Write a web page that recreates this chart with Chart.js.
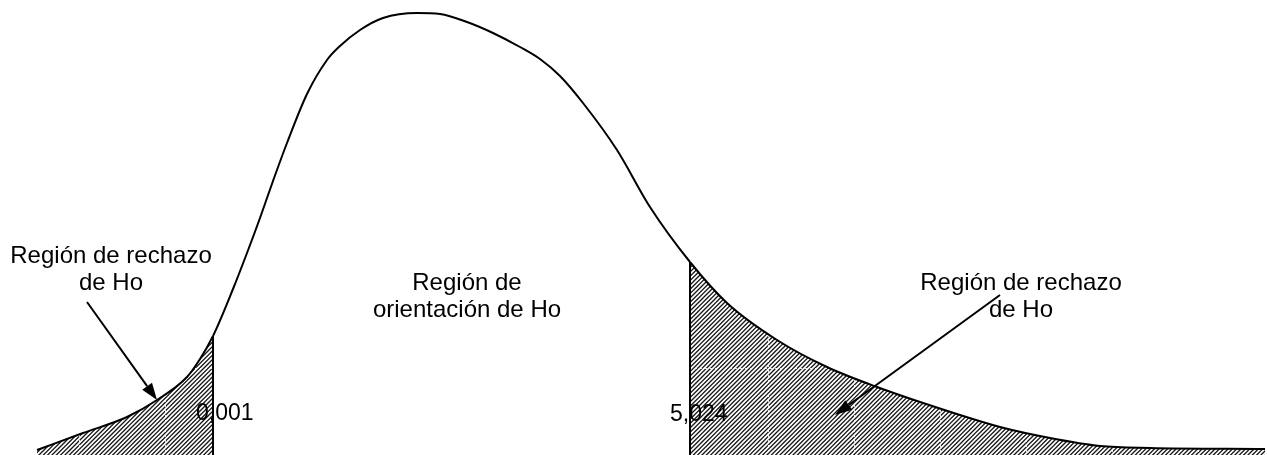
<!DOCTYPE html>
<html>
<head>
<meta charset="utf-8">
<script src="https://cdn.jsdelivr.net/npm/chart.js@4"></script>
<style>
body { margin: 0; background: #fff; }
#wrap { width: 1267px; height: 455px; position: relative; }
</style>
</head>
<body>
<div id="wrap"><canvas id="myChart"></canvas></div>
<script>
// curve (x position, height of the density)
const curveX = [37, 83, 127, 157, 187, 200, 213, 233, 247, 260, 273, 287, 307, 327, 340, 360, 383, 417, 440, 467, 493, 520, 540, 560, 583, 617, 650, 690, 727, 777, 827, 877, 960, 1000, 1050, 1100, 1150, 1265];
const curveY = [5, 22, 38, 55, 78, 96, 119, 166, 202, 237, 274, 312, 361, 395, 409, 425, 437, 442, 441, 433, 422, 408, 396, 379, 352, 305, 248, 193, 152, 115, 88, 68, 40, 28, 17, 9, 7, 6];

// critical values (position on the x axis and their labels)
const critX = [213, 690];
const critLabels = ['0,001', '5,024'];

// old worksheet gridlines that show through the hatch
const gridX = [79, 165, 251, 337, 424, 510, 596, 682, 768, 854, 940, 1026, 1112, 1198];
const gridY = [87];

const regionTexts = [
  ['Región de rechazo', 'de Ho'],
  ['Región de', 'orientación de Ho'],
  ['Región de rechazo', 'de Ho']
];

const FONT = '"Liberation Sans", Arial, sans-serif';

// diagonal hatch used for the rejection regions
function makeHatch() {
  const n = 13, p = 13 / 3;
  const c = document.createElement('canvas');
  c.width = n;
  c.height = n;
  const g = c.getContext('2d');
  g.fillStyle = '#fff';
  g.fillRect(0, 0, n, n);
  g.strokeStyle = '#161616';
  g.lineWidth = 1.35;
  g.beginPath();
  for (let k = 0; k <= 6; k++) {
    const cst = k * p;
    g.moveTo(cst + 2, -2);
    g.lineTo(cst - n - 2, n + 2);
  }
  g.stroke();
  return g.createPattern(c, 'repeat');
}
const hatch = makeHatch();

const curvePoints = curveX.map((x, i) => ({ x: x, y: curveY[i] }));

function heightAt(x) {
  const i = curveX.indexOf(x);
  return curveY[i];
}

const datasets = [{
  label: 'curva',
  data: curvePoints,
  borderColor: '#000',
  borderWidth: 2,
  pointRadius: 0,
  cubicInterpolationMode: 'monotone',
  fill: 'start',
  backgroundColor: 'transparent',
  segment: {
    backgroundColor: ctx => (ctx.p1.parsed.x <= critX[0] || ctx.p0.parsed.x >= critX[1]) ? hatch : 'rgba(0,0,0,0)'
  }
}];

critX.forEach(x => {
  datasets.push({
    label: 'corte',
    data: [{ x: x, y: 0 }, { x: x, y: heightAt(x) }],
    borderColor: '#000',
    borderWidth: 2,
    pointRadius: 0,
    fill: false
  });
});

// text and arrows, placed in chart units
const notes = [
  { lines: regionTexts[0], x: 111, y: 192, size: 24 },
  { lines: regionTexts[1], x: 467, y: 165, size: 24 },
  { lines: regionTexts[2], x: 1021, y: 165, size: 24 }
];
const arrows = [
  { from: [87, 153], to: [157, 55] },
  { from: [1000, 160], to: [835, 40] }
];

// white dashes over the fill, under the lines
const gridPlugin = {
  id: 'oldGrid',
  beforeDatasetsDraw(chart) {
    const ctx = chart.ctx;
    const a = chart.chartArea;
    const xs = chart.scales.x;
    const ys = chart.scales.y;
    ctx.save();
    ctx.strokeStyle = 'rgba(255,255,255,0.85)';
    ctx.lineWidth = 1;
    ctx.setLineDash([2, 3]);
    ctx.beginPath();
    gridX.forEach(v => {
      const px = Math.round(xs.getPixelForValue(v)) + 0.5;
      ctx.moveTo(px, a.top);
      ctx.lineTo(px, a.bottom);
    });
    gridY.forEach(v => {
      const py = Math.round(ys.getPixelForValue(v)) + 0.5;
      ctx.moveTo(a.left, py);
      ctx.lineTo(a.right, py);
    });
    ctx.stroke();
    ctx.restore();
  }
};

const labelsPlugin = {
  id: 'labels',
  afterDatasetsDraw(chart) {
    const ctx = chart.ctx;
    const xs = chart.scales.x;
    const ys = chart.scales.y;
    ctx.save();
    ctx.fillStyle = '#000';
    ctx.strokeStyle = '#000';
    ctx.textBaseline = 'alphabetic';

    notes.forEach(n => {
      ctx.font = n.size + 'px ' + FONT;
      ctx.textAlign = 'center';
      const px = xs.getPixelForValue(n.x);
      const py = ys.getPixelForValue(n.y);
      n.lines.forEach((t, k) => ctx.fillText(t, px, py + k * 27));
    });

    ctx.font = '23px ' + FONT;
    ctx.textAlign = 'left';
    ctx.fillText(critLabels[0], xs.getPixelForValue(critX[0]) - 17, ys.getPixelForValue(35));
    ctx.fillText(critLabels[1], xs.getPixelForValue(critX[1]) - 20, ys.getPixelForValue(34));

    arrows.forEach(a => {
      const x0 = xs.getPixelForValue(a.from[0]);
      const y0 = ys.getPixelForValue(a.from[1]);
      const x1 = xs.getPixelForValue(a.to[0]);
      const y1 = ys.getPixelForValue(a.to[1]);
      const ang = Math.atan2(y1 - y0, x1 - x0);
      const len = 17, half = 6;
      const bx = x1 - len * Math.cos(ang);
      const by = y1 - len * Math.sin(ang);
      ctx.lineWidth = 2;
      ctx.beginPath();
      ctx.moveTo(x0, y0);
      ctx.lineTo(bx, by);
      ctx.stroke();
      ctx.beginPath();
      ctx.moveTo(x1, y1);
      ctx.lineTo(bx + half * Math.sin(ang), by - half * Math.cos(ang));
      ctx.lineTo(bx - half * Math.sin(ang), by + half * Math.cos(ang));
      ctx.closePath();
      ctx.fill();
    });
    ctx.restore();
  }
};

const config = {
  type: 'line',
  data: { datasets: datasets },
  options: {
    responsive: true,
    maintainAspectRatio: false,
    animation: false,
    devicePixelRatio: 1,
    layout: { padding: 0 },
    plugins: {
      legend: { display: false },
      tooltip: { enabled: false },
      filler: { drawTime: 'beforeDatasetsDraw' }
    },
    scales: {
      x: { type: 'linear', min: 0, max: 1267, display: false },
      y: { type: 'linear', min: 0, max: 455, display: false }
    }
  },
  plugins: [gridPlugin, labelsPlugin]
};

const myChart = new Chart(document.getElementById('myChart'), config);
</script>
</body>
</html>
